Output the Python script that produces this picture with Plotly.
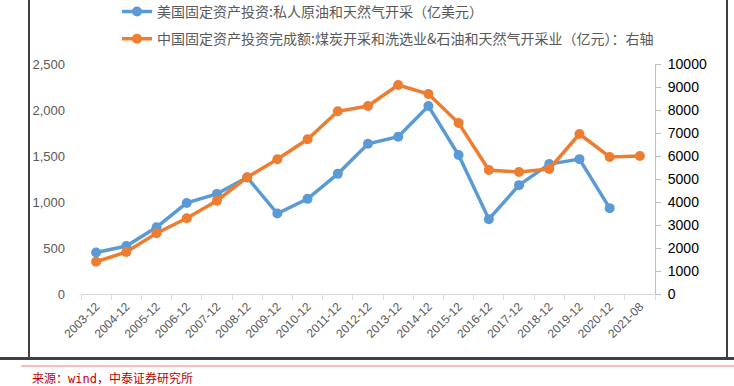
import plotly.graph_objects as go

categories = ["2003-12", "2004-12", "2005-12", "2006-12", "2007-12", "2008-12", "2009-12",
              "2010-12", "2011-12", "2012-12", "2013-12", "2014-12", "2015-12", "2016-12",
              "2017-12", "2018-12", "2019-12", "2020-12", "2021-08"]

us_invest = [451, 522, 726, 990, 1088, 1267, 875, 1034, 1306, 1633, 1709, 2043, 1510, 813,
             1183, 1412, 1466, 933, None]

cn_invest = [1404, 1826, 2639, 3291, 4057, 5074, 5857, 6726, 7943, 8174, 9087, 8696, 7435,
             5391, 5304, 5435, 6957, 5957, 6000]

name_us = "美国固定资产投资:私人原油和天然气开采（亿美元）"
name_cn = "中国固定资产投资完成额:煤炭开采和洗选业&石油和天然气开采业（亿元）：右轴"
source_text = "来源：wind，中泰证券研究所"

W, H = 734, 386
L, T = 81, 64
R = W - 655
B = H - 293.7
pw, ph = W - L - R, H - T - B

def px(x):
    return (x - L) / pw

def py(y):
    return (H - B - y) / ph

fig = go.Figure()
fig.add_trace(go.Scatter(
    x=categories, y=us_invest, name=name_us, mode="lines+markers",
    line=dict(color="#5B9BD5", width=3.5), marker=dict(size=10, color="#5B9BD5"),
    legendgroup="a", connectgaps=False))
fig.add_trace(go.Scatter(
    x=categories, y=cn_invest, name=name_cn, mode="lines+markers", yaxis="y2",
    line=dict(color="#ED7D31", width=3.5), marker=dict(size=10, color="#ED7D31"),
    legendgroup="b"))

font_main = "Liberation Sans, Noto Sans CJK SC, sans-serif"

shapes = [
    dict(type="line", xref="paper", yref="paper", x0=px(29), x1=px(29), y0=py(0), y1=py(358),
         line=dict(color="#000000", width=1.5)),
    dict(type="line", xref="paper", yref="paper", x0=px(727), x1=px(727), y0=py(0), y1=py(358),
         line=dict(color="#000000", width=1.5)),
    dict(type="line", xref="paper", yref="paper", x0=px(0), x1=px(734), y0=py(358), y1=py(358),
         line=dict(color="#404040", width=3)),
    dict(type="line", xref="paper", yref="paper", x0=px(21), x1=px(734), y0=py(365.5), y1=py(365.5),
         line=dict(color="#F4A6A6", width=1.5)),
]

fig.update_layout(
    width=W, height=H,
    margin=dict(l=L, r=R, t=T, b=B, autoexpand=False),
    paper_bgcolor="white", plot_bgcolor="white",
    font=dict(family=font_main, color="#595959", size=13),
    showlegend=True,
    legend=dict(x=px(117), y=py(-4), xanchor="left", yanchor="top",
                orientation="v", tracegroupgap=6,
                font=dict(size=14, color="#595959", family="Noto Sans CJK SC, sans-serif"),
                bgcolor="rgba(0,0,0,0)"),
    xaxis=dict(type="category", range=[-0.5, len(categories) - 0.5],
               showline=True, linecolor="#D9D9D9", linewidth=1,
               ticks="outside", tickson="boundaries", ticklen=5, tickcolor="#D9D9D9",
               tickangle=-45, tickfont=dict(size=12, color="#595959"),
               showgrid=False, zeroline=False, fixedrange=True),
    yaxis=dict(range=[0, 2500], dtick=500, tickformat=",", showline=False, ticks="",
               showgrid=False, zeroline=False, ticklabelstandoff=15,
               tickfont=dict(size=13, color="#595959")),
    yaxis2=dict(range=[0, 10000], dtick=1000, tickformat="d", overlaying="y", side="right",
                showline=True, linecolor="#BFBFBF", linewidth=1,
                ticks="outside", ticklen=5, tickcolor="#BFBFBF",
                showgrid=False, zeroline=False, ticklabelstandoff=4,
                tickfont=dict(size=14, color="#000000")),
    shapes=shapes,
    annotations=[dict(text=source_text, xref="paper", yref="paper", x=px(30), y=py(378),
                      xanchor="left", yanchor="middle", showarrow=False,
                      font=dict(size=12, color="#C00000",
                                family="DejaVu Sans Mono, Noto Sans CJK SC, monospace"))],
)

fig.write_html("out.html",
               config={"displayModeBar": False},
               post_script="document.body.style.margin='0';document.body.style.overflow='hidden';")
